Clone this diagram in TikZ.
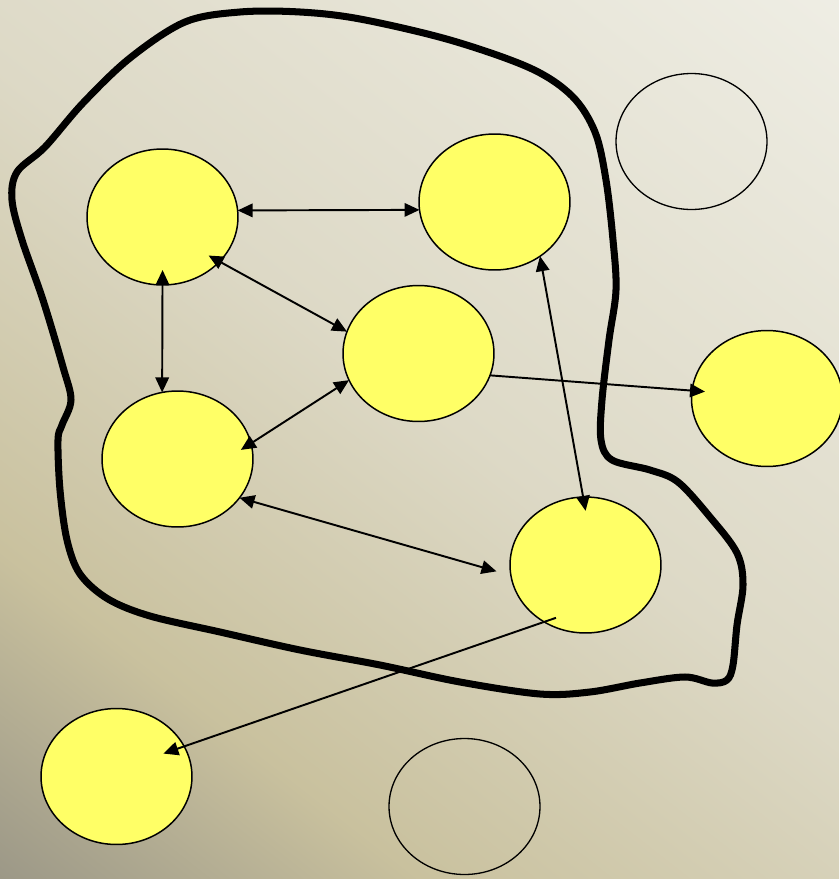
\documentclass[tikz,border=0pt]{standalone}
\usetikzlibrary{shapes.geometric,arrows.meta}
\definecolor{bglight}{HTML}{EFEEE5}
\definecolor{bgmid}{HTML}{DDD9C6}
\definecolor{bgtan}{HTML}{C9C19E}
\definecolor{bggrey}{HTML}{9C9887}
\definecolor{bubbleyellow}{HTML}{FFFF66}
\pgfdeclareverticalshading{backdrop}{100bp}{color(0bp)=(bggrey); color(15bp)=(bggrey); color(30bp)=(bgtan); color(52bp)=(bgmid); color(86bp)=(bglight); color(100bp)=(bglight)}

\begin{document}
\begin{tikzpicture}[x=0.02cm,y=-0.02cm,
    bubble/.style={ellipse,minimum width=3.02cm,minimum height=2.72cm,inner sep=0pt,outer sep=0pt,draw,line width=0.85pt,fill=bubbleyellow},
    hollow/.style={ellipse,minimum width=3.02cm,minimum height=2.72cm,inner sep=0pt,outer sep=0pt,draw,line width=0.75pt},
    link/.style={line width=1.1pt,>={Triangle[length=0.3cm,width=0.27cm]}}]
                \useasboundingbox (0,0) rectangle (839,879);
                \shade[shading=backdrop,shading angle=-38] (0,0) rectangle (839,879);

                \draw[line width=4pt,line join=round] plot[smooth cycle,tension=0.55] coordinates {
                    (240,12) (300,12) (360,19) (450,40) (530,68) (572,96) (595,132) (606,180)
                    (613,240) (616,290) (609,340) (602,400) (601,440) (612,460) (650,470)
                    (678,482) (710,517) (737,553) (743,585) (737,625) (733,665) (727,680)
                    (712,683) (685,677) (640,683) (590,692) (540,694) (460,682) (380,665)
                    (300,650) (220,632) (150,616) (108,599) (80,574) (67,540) (60,490)
                    (58,440) (62,425) (71,400) (63,367) (43,300) (22,240) (12,200)
                    (17,172) (45,147) (83,103) (130,58) (185,22)
                };

                \node[bubble] (topleft) at (162.5,217) {};
                \node[bubble] (topright) at (494.5,202) {};
                \node[bubble] (centre) at (418.5,353.5) {};
                \node[bubble] (midleft) at (177.5,459) {};
                \node[bubble] (lowright) at (585.5,565) {};
                \node[bubble] (outright) at (767,398.5) {};
                \node[bubble] (outleft) at (116.5,776.5) {};
                \node[hollow] (emptytop) at (691.5,141.5) {};
                \node[hollow] (emptybottom) at (464.5,806.5) {};

                \draw[link,<->] (topleft.5) -- (topright.186);
                \draw[link,<->,shorten <=-0.3cm] (topleft.-90) -- (midleft.103);
                \draw[link,<->,shorten >=-0.25cm] (centre.163) -- (topleft.-38);
                \draw[link,<->,shorten >=-0.24cm] (centre.201) -- (midleft.12);
                \draw[link,<->,shorten >=0.3cm] (midleft.-32) -- (lowright.188);
                \draw[link,<->,shorten >=-0.28cm] (topright.-50) -- (lowright.92);
                \draw[link,->,shorten >=-0.26cm] (centre.-17) -- (outright.174);
                \draw[link,->,shorten <=-0.25cm,shorten >=-0.44cm] (lowright.-126) -- (outleft.24);
            \end{tikzpicture}
\end{document}
